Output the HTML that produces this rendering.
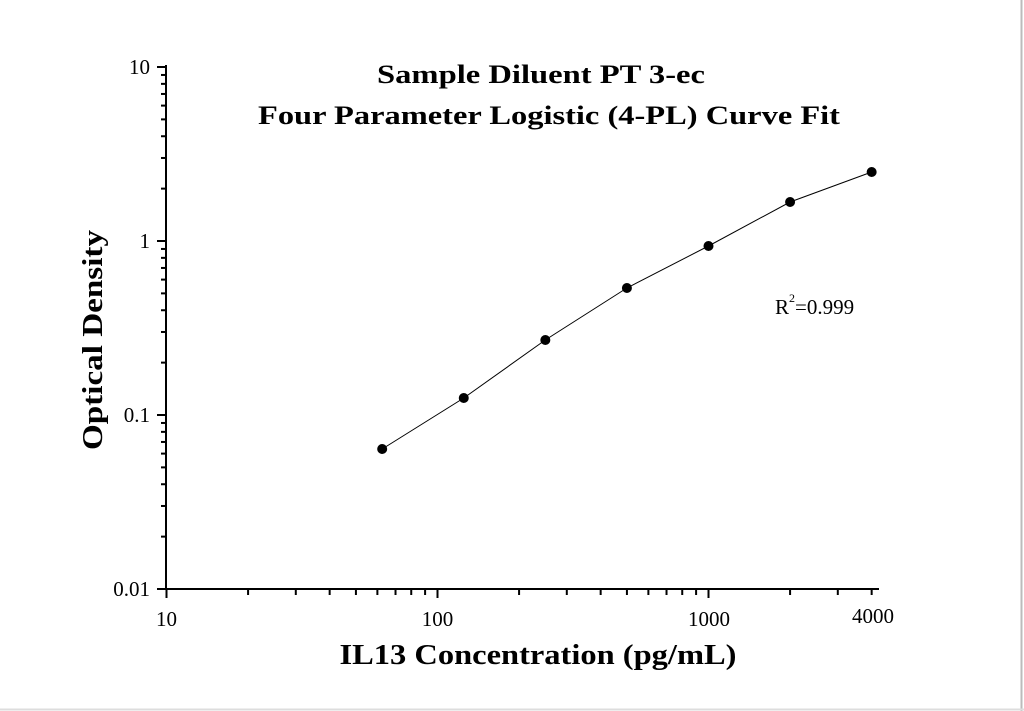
<!DOCTYPE html>
<html><head><meta charset="utf-8"><style>
body{margin:0;background:#fff;}
svg{display:block;font-family:"Liberation Serif",serif;}
.t{font-size:21px;}
</style></head><body>
<svg id="s" width="1024" height="711" xmlns="http://www.w3.org/2000/svg">
<rect width="1024" height="711" fill="#fff"/>
<line x1="1021.5" y1="0" x2="1021.5" y2="711" stroke="#bbb" stroke-width="2"/>
<line x1="0" y1="709.5" x2="1024" y2="709.5" stroke="#ddd" stroke-width="2"/>
<text x="541" y="83" style="font-size:26px;font-weight:bold" text-anchor="middle" textLength="328" lengthAdjust="spacingAndGlyphs">Sample Diluent PT 3-ec</text>
<text x="549" y="124" style="font-size:26px;font-weight:bold" text-anchor="middle" textLength="582" lengthAdjust="spacingAndGlyphs">Four Parameter Logistic (4-PL) Curve Fit</text>
<text x="538" y="664" style="font-size:28px;font-weight:bold" text-anchor="middle" textLength="397" lengthAdjust="spacingAndGlyphs">IL13 Concentration (pg/mL)</text>
<text transform="translate(102,340) rotate(-90)" style="font-size:28px;font-weight:bold" text-anchor="middle" textLength="220" lengthAdjust="spacingAndGlyphs">Optical Density</text>
<text class="t" x="150" y="74" text-anchor="end">10</text>
<text class="t" x="150" y="248" text-anchor="end">1</text>
<text class="t" x="150" y="422" text-anchor="end">0.1</text>
<text class="t" x="150" y="596" text-anchor="end">0.01</text>
<text class="t" x="166.5" y="626" text-anchor="middle">10</text>
<text class="t" x="437.5" y="626" text-anchor="middle">100</text>
<text class="t" x="709" y="626" text-anchor="middle">1000</text>
<text class="t" x="873" y="623" text-anchor="middle">4000</text>
<text class="t" x="775" y="314">R</text>
<text x="789" y="302" style="font-size:12px">2</text>
<text class="t" x="795" y="314">=0.999</text>
<g id="ax" stroke="#000" stroke-width="2" fill="none"></g>
<polyline id="curve" fill="none" stroke="#000" stroke-width="1"/>
<g id="pts" fill="#000"></g>
</svg>
<script>
var X=function(v){return 166.5+(Math.log10(v)-1)*271;};
var Y=function(v){return 589-(Math.log10(v)+2)*174;};
var ax=document.getElementById('ax'),h='';
h+='<line x1="166" y1="65" x2="166" y2="590"/>';
h+='<line x1="165" y1="589" x2="879" y2="589"/>';
for(var d=-2;d<=0;d++)for(var m=1;m<=10;m++){var v=m*Math.pow(10,d);var y=Y(v);var L=(m==1||m==10)?9:5;h+='<line x1="'+(166-L)+'" y1="'+y+'" x2="166" y2="'+y+'"/>';}
for(var d=1;d<=3;d++)for(var m=1;m<=10;m++){var v=m*Math.pow(10,d);if(v>4000)break;var x=X(v);var L=(m==1||m==10)?9:6;h+='<line x1="'+x+'" y1="589" x2="'+x+'" y2="'+(589+L)+'"/>';}
ax.innerHTML=h;
var P=[[62.5,449],[125,398],[250,340],[500,288],[1000,246],[2000,202],[4000,172]];
var g='';
P.forEach(function(p){g+='<circle cx="'+X(p[0])+'" cy="'+p[1]+'" r="5"/>';});
document.getElementById('pts').innerHTML=g;
document.getElementById('curve').setAttribute('points',P.map(function(p){return X(p[0]).toFixed(1)+','+p[1];}).join(' '));
</script>
</body></html>
